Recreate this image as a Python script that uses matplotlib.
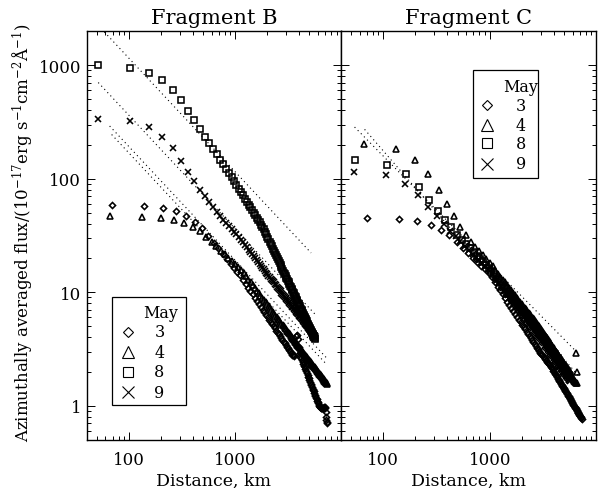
import numpy as np
import matplotlib
matplotlib.use("Agg")
import matplotlib.pyplot as plt
from matplotlib.ticker import LogLocator, NullFormatter
from matplotlib.patches import Rectangle

plt.rcParams['font.family'] = 'DejaVu Serif'
plt.rcParams['mathtext.fontset'] = 'dejavuserif'

# radial bin widths (km) of the azimuthal averages
bin_b3, bin_b4, bin_b8, bin_b9 = 69.5, 66.5, 51.4, 51.4
bin_c3, bin_c4, bin_c8, bin_c9 = 69.6, 66.4, 54.3, 53.0

# ---- Fragment B ----
flux_b3 = [58.9, 57.7, 55.0, 51.5, 46.5, 41.4, 36.7,
           31.4, 27.4, 24.3, 21.7, 19.6, 17.9, 16.4, 15.2, 14.1,
           12.9, 11.9, 11.0, 10.3, 9.56, 8.95, 8.39, 7.90, 7.45, 7.04,
           6.67, 6.33, 6.02, 5.74, 5.47, 5.23, 5.01, 4.80, 4.60, 4.42,
           4.25, 4.09, 3.94, 3.80, 3.67, 3.55, 3.43, 3.32, 3.21, 3.11, 3.02,
           2.90, 2.83, 2.79, 2.77, 2.80, 3.6, 4.1, 4.2, 3.9, 3.3, 2.9, 2.7, 2.62, 2.55,
           2.45, 2.35, 2.26, 2.18, 2.09, 2.02, 1.94, 1.87, 1.81, 1.74,
           1.69, 1.63, 1.57, 1.52, 1.47, 1.42, 1.38, 1.34, 1.29, 1.25,
           1.22, 1.18, 1.15, 1.11, 1.08, 1.05,
           1.02, 1.00, 0.98, 0.97, 0.96, 0.96, 0.95, 0.95, 0.95, 0.96,
           0.96, 0.97, 0.97, 0.95, 0.88, 0.80, 0.75, 0.72, 0.71]
flux_b4 = [46.5, 45.6, 44.9, 43.3, 40.5, 37.9, 34.5,
           30.7, 27.7, 25.3, 23.3, 21.6, 20.1, 18.9, 17.8, 16.8, 15.8,
           14.7, 13.8, 12.9, 12.2, 11.5, 10.9, 10.3, 9.79, 9.33, 8.90,
           8.51, 8.15, 7.81, 7.50, 7.21, 6.94, 6.69, 6.45, 6.23, 6.02,
           5.83, 5.64, 5.47, 5.30, 5.15, 5.00, 4.86, 4.72, 4.60, 4.48,
           4.36, 4.25, 4.15, 4.04, 3.95, 3.86, 3.77, 3.68, 3.60, 3.52,
           3.45, 3.38, 3.31, 3.24, 3.17, 3.11, 3.05, 2.99, 2.94, 2.88,
           2.83, 2.78, 2.73, 2.68, 2.64, 2.59, 2.55, 2.51, 2.47, 2.43,
           2.39, 2.35, 2.31, 2.28, 2.24, 2.21, 2.18, 2.15, 2.12, 2.09,
           2.06, 2.03, 2.00, 1.97, 1.95, 1.92, 1.90, 1.87, 1.85, 1.82,
           1.80, 1.78, 1.76, 1.73, 1.71, 1.69, 1.67, 1.65, 1.63, 1.61,
           1.60, 1.58, 1.56]
flux_b8 = [994, 948, 857, 743, 609, 490, 397, 326, 274, 232, 206, 182, 164,
           147, 134, 122, 112, 103, 95.2,
           88.2, 81.9, 76.3, 71.3, 66.8, 62.8, 59.2, 55.9, 52.9, 50.1,
           47.6, 45.3, 43.2, 41.2, 39.4, 37.7,
           36.1, 34.2, 32.4, 30.8, 29.2, 27.8, 26.5, 25.3, 24.2, 23.1,
           22.1, 21.2, 20.3, 19.5, 18.7, 18.0, 17.3, 16.7, 16.0, 15.5,
           14.9, 14.4, 13.9, 13.4, 13.0, 12.6, 12.2, 11.8, 11.4, 11.1,
           10.7, 10.4, 10.1, 9.83, 9.55, 9.28, 9.03, 8.78, 8.54, 8.32,
           8.10, 7.89, 7.69, 7.50, 7.31, 7.13, 6.96, 6.79, 6.63, 6.48,
           6.33, 6.18, 6.04, 5.91, 5.78, 5.65, 5.53, 5.41, 5.29, 5.18,
           5.08, 4.97, 4.87, 4.77, 4.68, 4.59, 4.50, 4.41, 4.33, 4.24,
           4.16, 4.09, 4.01, 3.94, 3.87]
flux_b9 = [338, 324, 285, 235, 186, 144, 115, 95, 80, 70, 62, 56, 51, 47,
           43.7, 40.9, 38.4, 36.2, 34.2, 32.4, 30.8,
           29.1, 27.6, 26.2, 24.9, 23.7, 22.7, 21.7, 20.8, 19.9, 19.1,
           18.4, 17.7, 17.1, 16.5, 16.0, 15.4, 14.9, 14.5, 14.0, 13.6,
           13.2, 12.8, 12.5, 12.2, 11.8, 11.5, 11.2, 11.0, 10.7, 10.4,
           10.2, 9.95, 9.73, 9.51, 9.31, 9.11, 8.92, 8.73, 8.56, 8.39,
           8.22, 8.06, 7.91, 7.76, 7.62, 7.48, 7.35, 7.22, 7.09, 6.97,
           6.85, 6.74, 6.63, 6.52, 6.41, 6.31, 6.21, 6.12, 6.02, 5.93,
           5.85, 5.76, 5.67, 5.59, 5.52, 5.44, 5.36, 5.29, 5.22, 5.15,
           5.08, 5.01, 4.95, 4.89, 4.82, 4.76, 4.70, 4.65, 4.59, 4.53,
           4.48, 4.43, 4.37, 4.32, 4.27, 4.23, 4.18, 4.13, 4.08]

# ---- Fragment C ----
flux_c3 = [44.9, 44.3, 42.0, 39.2, 35.4, 31.9,
           27.8, 24.6, 22.1, 20.1, 18.5, 17.1, 15.9, 14.9,
           13.5, 12.3, 11.2, 10.4, 9.57, 8.88, 8.28, 7.74, 7.25, 6.82,
           6.43, 6.07, 5.75, 5.45, 5.18, 4.94, 4.70, 4.49, 4.30, 4.11,
           3.95, 3.79, 3.64, 3.50, 3.37, 3.25, 3.14, 3.03, 2.93,
           2.85, 2.78, 2.70, 2.63, 2.57, 2.51, 2.45, 2.39, 2.33, 2.28,
           2.21, 2.15, 2.09, 2.03, 1.98, 1.92, 1.87, 1.82, 1.78, 1.73,
           1.69, 1.65, 1.61, 1.57, 1.53, 1.50, 1.47, 1.43, 1.40, 1.37,
           1.34, 1.31, 1.29, 1.26, 1.23, 1.21, 1.19, 1.16, 1.14, 1.12,
           1.10, 1.08, 1.06, 1.04, 1.02, 1.00, 0.983, 0.965, 0.949, 0.933,
           0.917, 0.902, 0.887, 0.872, 0.858, 0.844, 0.830, 0.818, 0.805, 0.793,
           0.781, 0.769]
flux_c4 = [203, 183, 147, 110, 80, 59.7, 46.5, 37.9, 31.9, 27.9,
           25.2, 23.0, 21.2, 19.6, 18.2,
           16.9, 15.7, 14.6, 13.7, 12.9, 12.2, 11.5, 10.9, 10.4, 9.86,
           9.40, 8.99, 8.60, 8.25, 7.92, 7.61, 7.33, 7.06, 6.82, 6.58,
           6.37, 6.16, 5.96, 5.78, 5.61, 5.45, 5.29, 5.14, 5.01, 4.87,
           4.71, 4.57, 4.44, 4.30, 4.18, 4.06, 3.95, 3.84, 3.74, 3.64,
           3.55, 3.46, 3.37, 3.29, 3.21, 3.13, 3.06, 2.99, 2.92, 2.86,
           2.80, 2.73, 2.68, 2.62, 2.57, 2.51, 2.46, 2.41, 2.37, 2.32,
           2.28, 2.23, 2.19, 2.15, 2.11, 2.08, 2.04, 2.00, 1.97, 1.94,
           1.90, 1.87, 1.84, 1.81, 1.78, 1.75, 1.73, 1.70, 1.67, 1.65,
           1.62, 1.60, 2.93, 1.97, 1.58]
flux_c8 = [146, 133, 111, 84.5, 64.8, 52.0, 43.2, 37.2, 31.9,
           28.9, 26.4, 24.3, 22.5, 21.0, 19.6, 18.5, 17.4, 16.5,
           15.5, 14.6, 13.7, 13.0, 12.3, 11.7, 11.1, 10.6, 10.1, 9.71,
           9.31, 8.94, 8.60, 8.27, 7.97, 7.69, 7.43, 7.18, 6.95, 6.73,
           6.52, 6.33, 6.14, 5.97, 5.80, 5.65, 5.50, 5.35, 5.22, 5.09,
           4.96, 4.84, 4.73, 4.62, 4.51, 4.42, 4.32,
           4.22, 4.12, 4.02, 3.93, 3.84, 3.76, 3.68, 3.60, 3.52, 3.45,
           3.38, 3.31, 3.24, 3.18, 3.12, 3.06, 3.00, 2.95, 2.89, 2.84,
           2.79, 2.74, 2.70, 2.65, 2.61, 2.56, 2.52, 2.48, 2.44, 2.40,
           2.36, 2.33, 2.29, 2.26, 2.22, 2.19, 2.16, 2.13, 2.10, 2.07,
           2.04, 2.01, 1.98, 1.95, 1.93, 1.90, 1.88, 1.85, 1.83]
flux_c9 = [115, 107, 89.8, 71.3, 56.5, 46.5, 39.7, 34.7,
           31.0, 28.1, 25.6, 23.6, 21.9, 20.4, 19.1, 18.0, 17.0, 16.1, 15.3,
           14.4, 13.5, 12.7, 12.1, 11.4, 10.9, 10.3, 9.86, 9.42, 9.02,
           8.65, 8.30, 7.98, 7.67, 7.39, 7.13, 6.88, 6.65, 6.43, 6.23,
           6.03, 5.85, 5.68, 5.51, 5.35, 5.21, 5.07, 4.93, 4.81, 4.68,
           4.57, 4.45, 4.35, 4.24, 4.15, 4.05, 3.96, 3.88,
           3.79, 3.70, 3.62, 3.54, 3.46, 3.39, 3.32, 3.25, 3.18, 3.12,
           3.06, 3.00, 2.94, 2.88, 2.83, 2.78, 2.73, 2.68, 2.63, 2.58,
           2.54, 2.50, 2.46, 2.41, 2.37, 2.34, 2.30, 2.26, 2.23, 2.19,
           2.16, 2.13, 2.09, 2.06, 2.03, 2.00, 1.97, 1.95, 1.92, 1.89,
           1.87, 1.84, 1.82, 1.79, 1.77, 1.75, 1.72, 1.70, 1.68, 1.66]

# power-law guide lines (end points, km and flux)
guide_b_x = [[51.4, 5180], [51.4, 5650], [65.8, 7300], [68.7, 7300]]
guide_b_y = [[2237, 22.2], [703, 6.4], [291, 2.62], [245, 2.30]]
guide_c_x = [[53.7, 6580], [66.7, 6810]]
guide_c_y = [[285, 2.97], [272, 1.84]]

days = ['3', '4', '8', '9']
day_marker = {'3': 'D', '4': '^', '8': 's', '9': 'x'}
day_ms = {'3': 3.1, '4': 4.6, '8': 4.4, '9': 4.6}
key_ms = {'3': 5.6, '4': 8.4, '8': 7.9, '9': 8.4}

xtick_vals, xtick_text = [100, 1000], ['100', '1000']
ytick_vals, ytick_text = [1, 10, 100, 1000], ['1', '10', '100', '1000']


def style_axes(ax, ylabels=True):
    ax.set_xscale('log')
    ax.set_yscale('log')
    ax.set_xlim(40, 9900)
    ax.set_ylim(0.5, 2000)
    ax.set_xticks(xtick_vals, labels=xtick_text)
    ax.set_yticks(ytick_vals, labels=ytick_text if ylabels else [])
    ax.xaxis.set_minor_locator(LogLocator(base=10, subs=np.arange(2, 10), numticks=20))
    ax.yaxis.set_minor_locator(LogLocator(base=10, subs=np.arange(2, 10), numticks=20))
    ax.xaxis.set_minor_formatter(NullFormatter())
    ax.yaxis.set_minor_formatter(NullFormatter())
    ax.tick_params(which='both', direction='in', top=True, right=True,
                   width=0.7, labelsize=12)
    ax.tick_params(which='major', length=6)
    ax.tick_params(which='minor', length=3)
    ax.tick_params(axis='x', which='major', pad=8)
    ax.tick_params(axis='y', which='major', pad=4)
    for s in ax.spines.values():
        s.set_linewidth(1.0)
    ax.set_xlabel('Distance, km', fontsize=12.5, labelpad=3)


def draw_key(ax, box, title_xy, mark_x, text_x, rows_y):
    x0, y0, x1, y1 = box
    ax.add_patch(Rectangle((x0, y0), x1 - x0, y1 - y0, transform=ax.transAxes,
                           fill=False, lw=0.9, ec='black', zorder=5))
    ax.text(title_xy[0], title_xy[1], 'May', transform=ax.transAxes,
            ha='center', va='baseline', fontsize=11.5, zorder=6)
    for d, yy in zip(days, rows_y):
        ax.plot([mark_x], [yy], linestyle='none', marker=day_marker[d],
                ms=key_ms[d], mfc='none', mec='black', mew=0.8,
                transform=ax.transAxes, zorder=6)
        ax.text(text_x, yy, d, transform=ax.transAxes, ha='center',
                va='center', fontsize=11.5, zorder=6)


def draw_panel(ax, fluxes, bins, guides_x, guides_y):
    for gx, gy in zip(guides_x, guides_y):
        ax.plot(gx, gy, color='black', lw=0.8, linestyle=(0, (1, 3)))
    for d in days:
        f = np.asarray(fluxes[d])
        r = bins[d] * np.arange(1, len(f) + 1)
        ax.plot(r, f, linestyle='none', marker=day_marker[d], ms=day_ms[d],
                mfc='none', mec='black', mew=1.15)


fig = plt.figure(figsize=(6.05, 4.89), dpi=100)
ax1 = fig.add_axes([0.1433, 0.0982, 0.4203, 0.8364])
ax2 = fig.add_axes([0.5636, 0.0982, 0.4210, 0.8364])

draw_panel(ax1, {'3': flux_b3, '4': flux_b4, '8': flux_b8, '9': flux_b9},
           {'3': bin_b3, '4': bin_b4, '8': bin_b8, '9': bin_b9},
           guide_b_x, guide_b_y)
draw_panel(ax2, {'3': flux_c3, '4': flux_c4, '8': flux_c8, '9': flux_c9},
           {'3': bin_c3, '4': bin_c4, '8': bin_c8, '9': bin_c9},
           guide_c_x, guide_c_y)

style_axes(ax1)
style_axes(ax2, ylabels=False)
ax1.set_title('Fragment B', fontsize=15, pad=6)
ax2.set_title('Fragment C', fontsize=15, pad=6)
ax1.set_ylabel('Azimuthally averaged flux/(10$^{-17}$erg s$^{-1}$cm$^{-2}$Å$^{-1}$)',
               fontsize=12)
ax1.yaxis.set_label_coords(-0.205, 0.51)

draw_key(ax1, (0.0995, 0.0856, 0.390, 0.350), (0.290, 0.301), 0.1636, 0.2862,
         [0.2648, 0.2144, 0.1670, 0.1166])
draw_key(ax2, (0.517, 0.640, 0.775, 0.905), (0.7055, 0.853), 0.572, 0.7055,
         [0.819, 0.770, 0.726, 0.675])

fig.savefig('out.png', dpi=100)
